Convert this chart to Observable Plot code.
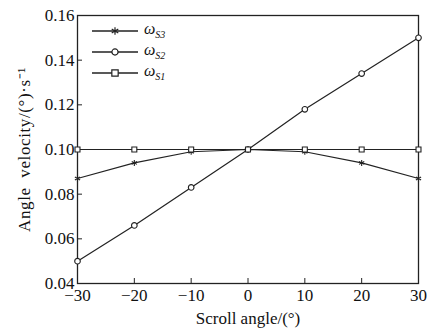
<!DOCTYPE html>
<html><head><meta charset="utf-8">
<script src="https://cdn.jsdelivr.net/npm/d3@7"></script>
<script src="https://cdn.jsdelivr.net/npm/@observablehq/plot@0.6"></script>
<style>
body{margin:0;background:#fff}
#c{position:relative;width:428px;height:329px;font-family:"Liberation Serif",serif}
#c svg text{font-family:"Liberation Serif","Times New Roman",serif !important;font-size:17px !important;fill:#111}
#c svg g[aria-label="y-axis label"] text{letter-spacing:0.6px}
#legend{position:absolute;left:92px;top:20px;font-family:"Liberation Serif",serif}
.row{display:flex;align-items:center;height:21px}
.row svg{display:block}
.lab{margin-left:6px;font-size:16px;font-style:italic;color:#111}
.lab sub{font-size:10px;font-style:italic}
</style>
</head><body><div id="c"></div>
<script>
const angles = [-30, -20, -10, 0, 10, 20, 30];
const wS3 = [0.087, 0.094, 0.099, 0.100, 0.099, 0.094, 0.087];
const wS2 = [0.050, 0.066, 0.083, 0.100, 0.118, 0.134, 0.150];
const wS1 = [0.100, 0.100, 0.100, 0.100, 0.100, 0.100, 0.100];
const seriesNames = ["S3", "S2", "S1"];
const seriesSymbols = ["asterisk", "circle", "square"];
const xTicks = [-30, -20, -10, 0, 10, 20, 30];
const yTicks = [0.04, 0.06, 0.08, 0.10, 0.12, 0.14, 0.16];

const seriesValues = [wS3, wS2, wS1];
const data = [];
seriesNames.forEach((s, i) => angles.forEach((a, j) => data.push({series: s, angle: a, w: seriesValues[i][j], sym: seriesSymbols[i]})));

const ink = "#222";
const chart = Plot.plot({
  width: 428, height: 329,
  marginLeft: 77, marginRight: 10, marginTop: 15, marginBottom: 46,
  style: {fontFamily: "'Liberation Serif', serif", fontSize: "17px", color: ink, background: "#fff"},
  x: {domain: [-30, 30]},
  y: {domain: [0.04, 0.16]},
  symbol: {domain: seriesSymbols, range: seriesSymbols},
  marks: [
    Plot.frame({stroke: ink, strokeWidth: 1.3}),
    Plot.axisX({ticks: xTicks, tickSize: -5, tickPadding: 10, tickFormat: d => d < 0 ? "\u2212" + Math.abs(d) : String(d),
      label: "Scroll angle/(°)", labelAnchor: "center", labelOffset: 40, labelArrow: "none"}),
    Plot.axisY({ticks: yTicks, tickSize: -5, tickPadding: 8, tickFormat: d3.format(".2f"),
      label: "Angle  velocity/(°)·s⁻¹", labelAnchor: "center", labelOffset: 60, labelArrow: "none"}),
    Plot.line(data, {x: "angle", y: "w", z: "series", stroke: ink, strokeWidth: 1.2}),
    Plot.dot(data, {x: "angle", y: "w", symbol: "sym", r: 2.8, stroke: ink, fill: "white", strokeWidth: 1.1})
  ]
});
document.getElementById("c").appendChild(chart);

const legend = document.createElement("div");
legend.id = "legend";
seriesNames.forEach((s, i) => {
  const row = document.createElement("div");
  row.className = "row";
  const sym = d3.symbol(seriesSymbols[i] === "asterisk" ? d3.symbolAsterisk : seriesSymbols[i] === "circle" ? d3.symbolCircle : d3.symbolSquare, seriesSymbols[i] === "circle" ? 30 : 40)();
  row.innerHTML = `<svg width="46" height="14"><line x1="0" x2="46" y1="7" y2="7" stroke="${ink}" stroke-width="1.3"/><path transform="translate(23,7)" d="${sym}" fill="white" stroke="${ink}" stroke-width="1.2"/></svg><span class="lab">ω<sub>${s}</sub></span>`;
  legend.appendChild(row);
});
document.getElementById("c").appendChild(legend);
</script>
</body></html>
